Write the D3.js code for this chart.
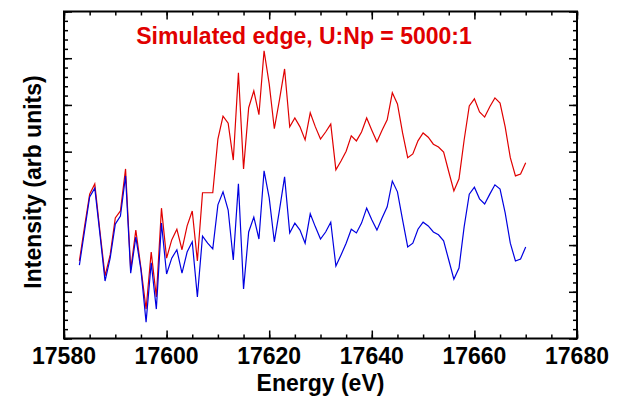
<!DOCTYPE html>
<html>
<head>
<meta charset="utf-8">
<script src="https://cdn.jsdelivr.net/npm/d3@7"></script>
<style>
  html, body { margin: 0; padding: 0; background: #fff; }
  svg { display: block; font-family: "Liberation Sans", Arial, sans-serif; }
</style>
</head>
<body>
<svg id="chart" width="617" height="396"></svg>
<script>
// Energy grid (eV), 1 eV steps
const startEnergy = 17583;
const titleText = "Simulated edge, U:Np = 5000:1";
const xLabel = "Energy (eV)";
const yLabel = "Intensity (arb units)";
const xTicks = [17580, 17600, 17620, 17640, 17660, 17680];

// Simulated spectrum with the Np edge included
const withEdge = [
  1.66, 2.39, 3.09, 3.31, 2.30, 1.34, 1.79, 2.58, 2.73, 3.63,
  1.47, 2.32, 1.51, 0.63, 1.85, 0.89, 2.79, 1.72, 2.11, 2.34,
  1.90, 2.41, 2.73, 1.66, 3.12, 3.12, 3.12, 4.27, 4.76, 4.61,
  3.82, 5.69, 3.63, 4.94, 5.30, 4.79, 6.16, 5.45, 4.49, 5.11,
  5.77, 4.53, 4.72, 4.53, 4.25, 4.83, 4.53, 4.27, 4.42, 4.59,
  3.61, 3.80, 4.01, 4.34, 4.23, 4.42, 4.72, 4.46, 4.21, 4.46,
  4.68, 5.26, 5.02, 4.40, 3.87, 3.95, 4.23, 4.40, 4.31, 4.16,
  4.10, 3.99, 3.57, 3.16, 3.42, 4.25, 4.98, 5.13, 4.85, 4.74,
  4.96, 5.15, 5.04, 4.53, 3.87, 3.48, 3.52, 3.76
];

// Background spectrum without the edge
const noEdge = [
  1.57, 2.30, 3.03, 3.22, 2.24, 1.23, 1.72, 2.45, 2.62, 3.48,
  1.40, 2.17, 1.47, 0.35, 1.62, 0.63, 2.47, 1.38, 1.72, 1.90,
  1.40, 1.85, 2.07, 0.89, 2.19, 2.04, 1.92, 2.86, 3.14, 2.75,
  1.68, 3.31, 1.06, 2.28, 2.60, 2.13, 3.59, 3.01, 2.07, 2.75,
  3.46, 2.26, 2.47, 2.32, 2.04, 2.67, 2.39, 2.13, 2.28, 2.49,
  1.55, 1.79, 2.04, 2.34, 2.26, 2.47, 2.79, 2.54, 2.32, 2.58,
  2.82, 3.37, 3.14, 2.54, 1.96, 2.04, 2.34, 2.49, 2.41, 2.28,
  2.22, 2.09, 1.68, 1.27, 1.51, 2.39, 3.09, 3.24, 2.99, 2.88,
  3.09, 3.29, 3.20, 2.69, 2.04, 1.66, 1.70, 1.96
];

const svg = d3.select("#chart");
const plotLeft = 64, plotRight = 577, plotTop = 11.5, plotBottom = 338.5;

const x = d3.scaleLinear().domain([17580, 17680]).range([plotLeft, plotRight]);
const y = d3.scaleLinear().domain([0, 7]).range([plotBottom, plotTop]);

const energies = withEdge.map((_, i) => startEnergy + i);
const line = d3.line().x((d, i) => x(energies[i])).y(d => y(d));

// Spectra
svg.append("path").datum(withEdge)
  .attr("d", line).attr("fill", "none")
  .attr("stroke", "#e00000").attr("stroke-width", 1.2);
svg.append("path").datum(noEdge)
  .attr("d", line).attr("fill", "none")
  .attr("stroke", "#0000e0").attr("stroke-width", 1.2);

// Minor and major ticks on all four sides, pointing inward
const xMinor = d3.range(17580, 17681, 5);
const yMinor = d3.range(0, 7.001, 0.2);
const yMajor = d3.range(0, 7.001, 1);

function tickAxis(axisFn, scale, values, size, translate) {
  const g = svg.append("g").attr("transform", translate)
    .call(axisFn(scale).tickValues(values).tickSize(-size).tickFormat(""));
  g.select(".domain").remove();
  g.selectAll("line").attr("stroke", "#000").attr("stroke-width", 1.5);
  return g;
}
tickAxis(d3.axisBottom, x, xMinor, 4, `translate(0,${plotBottom})`);
tickAxis(d3.axisBottom, x, xTicks, 8, `translate(0,${plotBottom})`);
tickAxis(d3.axisTop, x, xMinor, 4, `translate(0,${plotTop})`);
tickAxis(d3.axisTop, x, xTicks, 8, `translate(0,${plotTop})`);
tickAxis(d3.axisLeft, y, yMinor, 4, `translate(${plotLeft},0)`);
tickAxis(d3.axisLeft, y, yMajor, 8, `translate(${plotLeft},0)`);
tickAxis(d3.axisRight, y, yMinor, 4, `translate(${plotRight},0)`);
tickAxis(d3.axisRight, y, yMajor, 8, `translate(${plotRight},0)`);

// Frame
svg.append("rect")
  .attr("x", plotLeft).attr("y", plotTop)
  .attr("width", plotRight - plotLeft).attr("height", plotBottom - plotTop)
  .attr("fill", "none").attr("stroke", "#000").attr("stroke-width", 2);

// X tick labels
svg.append("g").selectAll("text").data(xTicks).join("text")
  .attr("x", d => x(d)).attr("y", 364)
  .attr("text-anchor", "middle")
  .attr("font-size", 23).attr("font-weight", "bold").attr("fill", "#000")
  .text(d => d);

// Axis titles
svg.append("text")
  .attr("x", (plotLeft + plotRight) / 2).attr("y", 391)
  .attr("text-anchor", "middle")
  .attr("font-size", 23).attr("font-weight", "bold").attr("fill", "#000")
  .text(xLabel);

svg.append("text")
  .attr("transform", `translate(41,182) rotate(-90)`)
  .attr("text-anchor", "middle")
  .attr("font-size", 23).attr("font-weight", "bold").attr("fill", "#000")
  .text(yLabel);

// Title inside the plot
svg.append("text")
  .attr("x", 304).attr("y", 44)
  .attr("text-anchor", "middle")
  .attr("font-size", 23).attr("font-weight", "bold").attr("fill", "#e00000")
  .text(titleText);
</script>
</body>
</html>
